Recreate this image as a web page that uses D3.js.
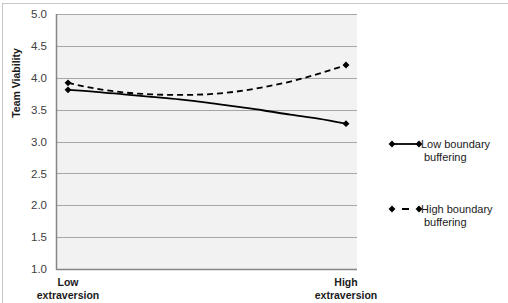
<!DOCTYPE html>
<html>
<head>
<meta charset="utf-8" />
<script src="https://d3js.org/d3.v7.min.js"></script>
<style>
  body { margin: 0; background: #fff; }
  svg { display: block; font-family: "Liberation Sans", Arial, sans-serif; }
</style>
</head>
<body>
<div id="visu"></div>
<script>
// extraversion position (0 = low, 1 = high)
const extraversion = [0, 0.1, 0.2, 0.3, 0.4, 0.5, 0.6, 0.7, 0.8, 0.9, 1];
const lowBuffering = [3.81, 3.78, 3.74, 3.70, 3.66, 3.61, 3.55, 3.49, 3.42, 3.36, 3.28];
const highBuffering = [3.92, 3.83, 3.77, 3.74, 3.73, 3.74, 3.78, 3.85, 3.94, 4.06, 4.20];
const seriesNames = ["Low boundary buffering", "High boundary buffering"];
const xLabels = ["Low extraversion", "High extraversion"];
const yTicks = [1.0, 1.5, 2.0, 2.5, 3.0, 3.5, 4.0, 4.5, 5.0];

const width = 508, height = 303;
const plot = { left: 56, top: 14, right: 357, bottom: 269 };

const svg = d3.select("#visu").append("svg")
  .attr("width", width)
  .attr("height", height);

// cadre extérieur
svg.append("rect")
  .attr("x", 2.5).attr("y", 3.5)
  .attr("width", 560).attr("height", 360)
  .attr("fill", "none")
  .attr("stroke", "#c8c8c8");

const x = d3.scaleLinear().domain([0, 1]).range([68, 346]);
const y = d3.scaleLinear().domain([1, 5]).range([plot.bottom, plot.top]);

// fond de la zone de tracé
svg.append("rect")
  .attr("x", plot.left).attr("y", plot.top)
  .attr("width", plot.right - plot.left).attr("height", plot.bottom - plot.top)
  .attr("fill", "#f2f2f2");

// grille
svg.append("g")
  .selectAll("line")
  .data(yTicks.slice(1))
  .enter().append("line")
  .attr("x1", plot.left).attr("x2", plot.right)
  .attr("y1", d => Math.round(y(d)) + 0.5)
  .attr("y2", d => Math.round(y(d)) + 0.5)
  .attr("stroke", "#a6a6a6")
  .attr("stroke-width", 1);

// axe y
const yAxis = svg.append("g")
  .attr("transform", `translate(${plot.left},0)`)
  .call(d3.axisLeft(y).tickValues(yTicks).tickFormat(d3.format(".1f")).tickSize(0).tickPadding(9));
yAxis.select(".domain").remove();
yAxis.selectAll("text")
  .attr("fill", "#404040")
  .style("font-size", "11.5px");

// lignes d'axes
svg.append("line")
  .attr("x1", plot.left + 0.5).attr("x2", plot.left + 0.5)
  .attr("y1", plot.top).attr("y2", plot.bottom + 1)
  .attr("stroke", "#868686").attr("stroke-width", 1.5);
svg.append("line")
  .attr("x1", plot.left).attr("x2", plot.right)
  .attr("y1", plot.bottom + 0.5).attr("y2", plot.bottom + 0.5)
  .attr("stroke", "#868686").attr("stroke-width", 1.5);

// titre axe y
svg.append("text")
  .attr("transform", "translate(20,83) rotate(-90)")
  .attr("text-anchor", "middle")
  .style("font-size", "10.5px")
  .style("font-weight", "bold")
  .attr("fill", "#1a1a1a")
  .text("Team Viability");

// étiquettes x
const xl = svg.append("g").selectAll("text")
  .data(xLabels)
  .enter().append("text")
  .attr("text-anchor", "middle")
  .style("font-size", "10.5px")
  .style("font-weight", "bold")
  .attr("fill", "#1a1a1a");
xl.append("tspan")
  .attr("x", (d, i) => x(i))
  .attr("y", 286)
  .text(d => d.split(" ")[0]);
xl.append("tspan")
  .attr("x", (d, i) => x(i))
  .attr("y", 299)
  .text(d => d.split(" ")[1]);

const series = [
  { name: seriesNames[0], values: lowBuffering, dash: null },
  { name: seriesNames[1], values: highBuffering, dash: "6,4" }
];

const line = d3.line()
  .x((d, i) => x(extraversion[i]))
  .y(d => y(d))
  .curve(d3.curveMonotoneX);

const diamond = d3.symbol().type(d3.symbolDiamond2).size(30);

series.forEach(s => {
  svg.append("path")
    .datum(s.values)
    .attr("d", line)
    .attr("fill", "none")
    .attr("stroke", "#000")
    .attr("stroke-width", 1.8)
    .attr("stroke-dasharray", s.dash);

  const ends = [0, s.values.length - 1];
  svg.append("g").selectAll("path")
    .data(ends)
    .enter().append("path")
    .attr("d", diamond)
    .attr("transform", i => `translate(${x(extraversion[i])},${y(s.values[i])})`)
    .attr("fill", "#000");
});

// légende
const legendY = [144, 209];
series.forEach((s, k) => {
  const g = svg.append("g").attr("transform", `translate(0,${legendY[k]})`);
  g.append("line")
    .attr("x1", 392).attr("x2", 419)
    .attr("y1", 0).attr("y2", 0)
    .attr("stroke", "#000")
    .attr("stroke-width", 1.8)
    .attr("stroke-dasharray", s.dash ? "0,10,7,13" : null);
  g.selectAll("path")
    .data([392, 419])
    .enter().append("path")
    .attr("d", diamond)
    .attr("transform", d => `translate(${d},0)`)
    .attr("fill", "#000");
  const words = s.name.split(" ");
  const t = g.append("text")
    .style("font-size", "11px")
    .attr("fill", "#1a1a1a");
  t.append("tspan").attr("x", 421).attr("y", 4).text(words[0] + " " + words[1]);
  t.append("tspan").attr("x", 424).attr("y", 17).text(words[2]);
});
</script>
</body>
</html>
